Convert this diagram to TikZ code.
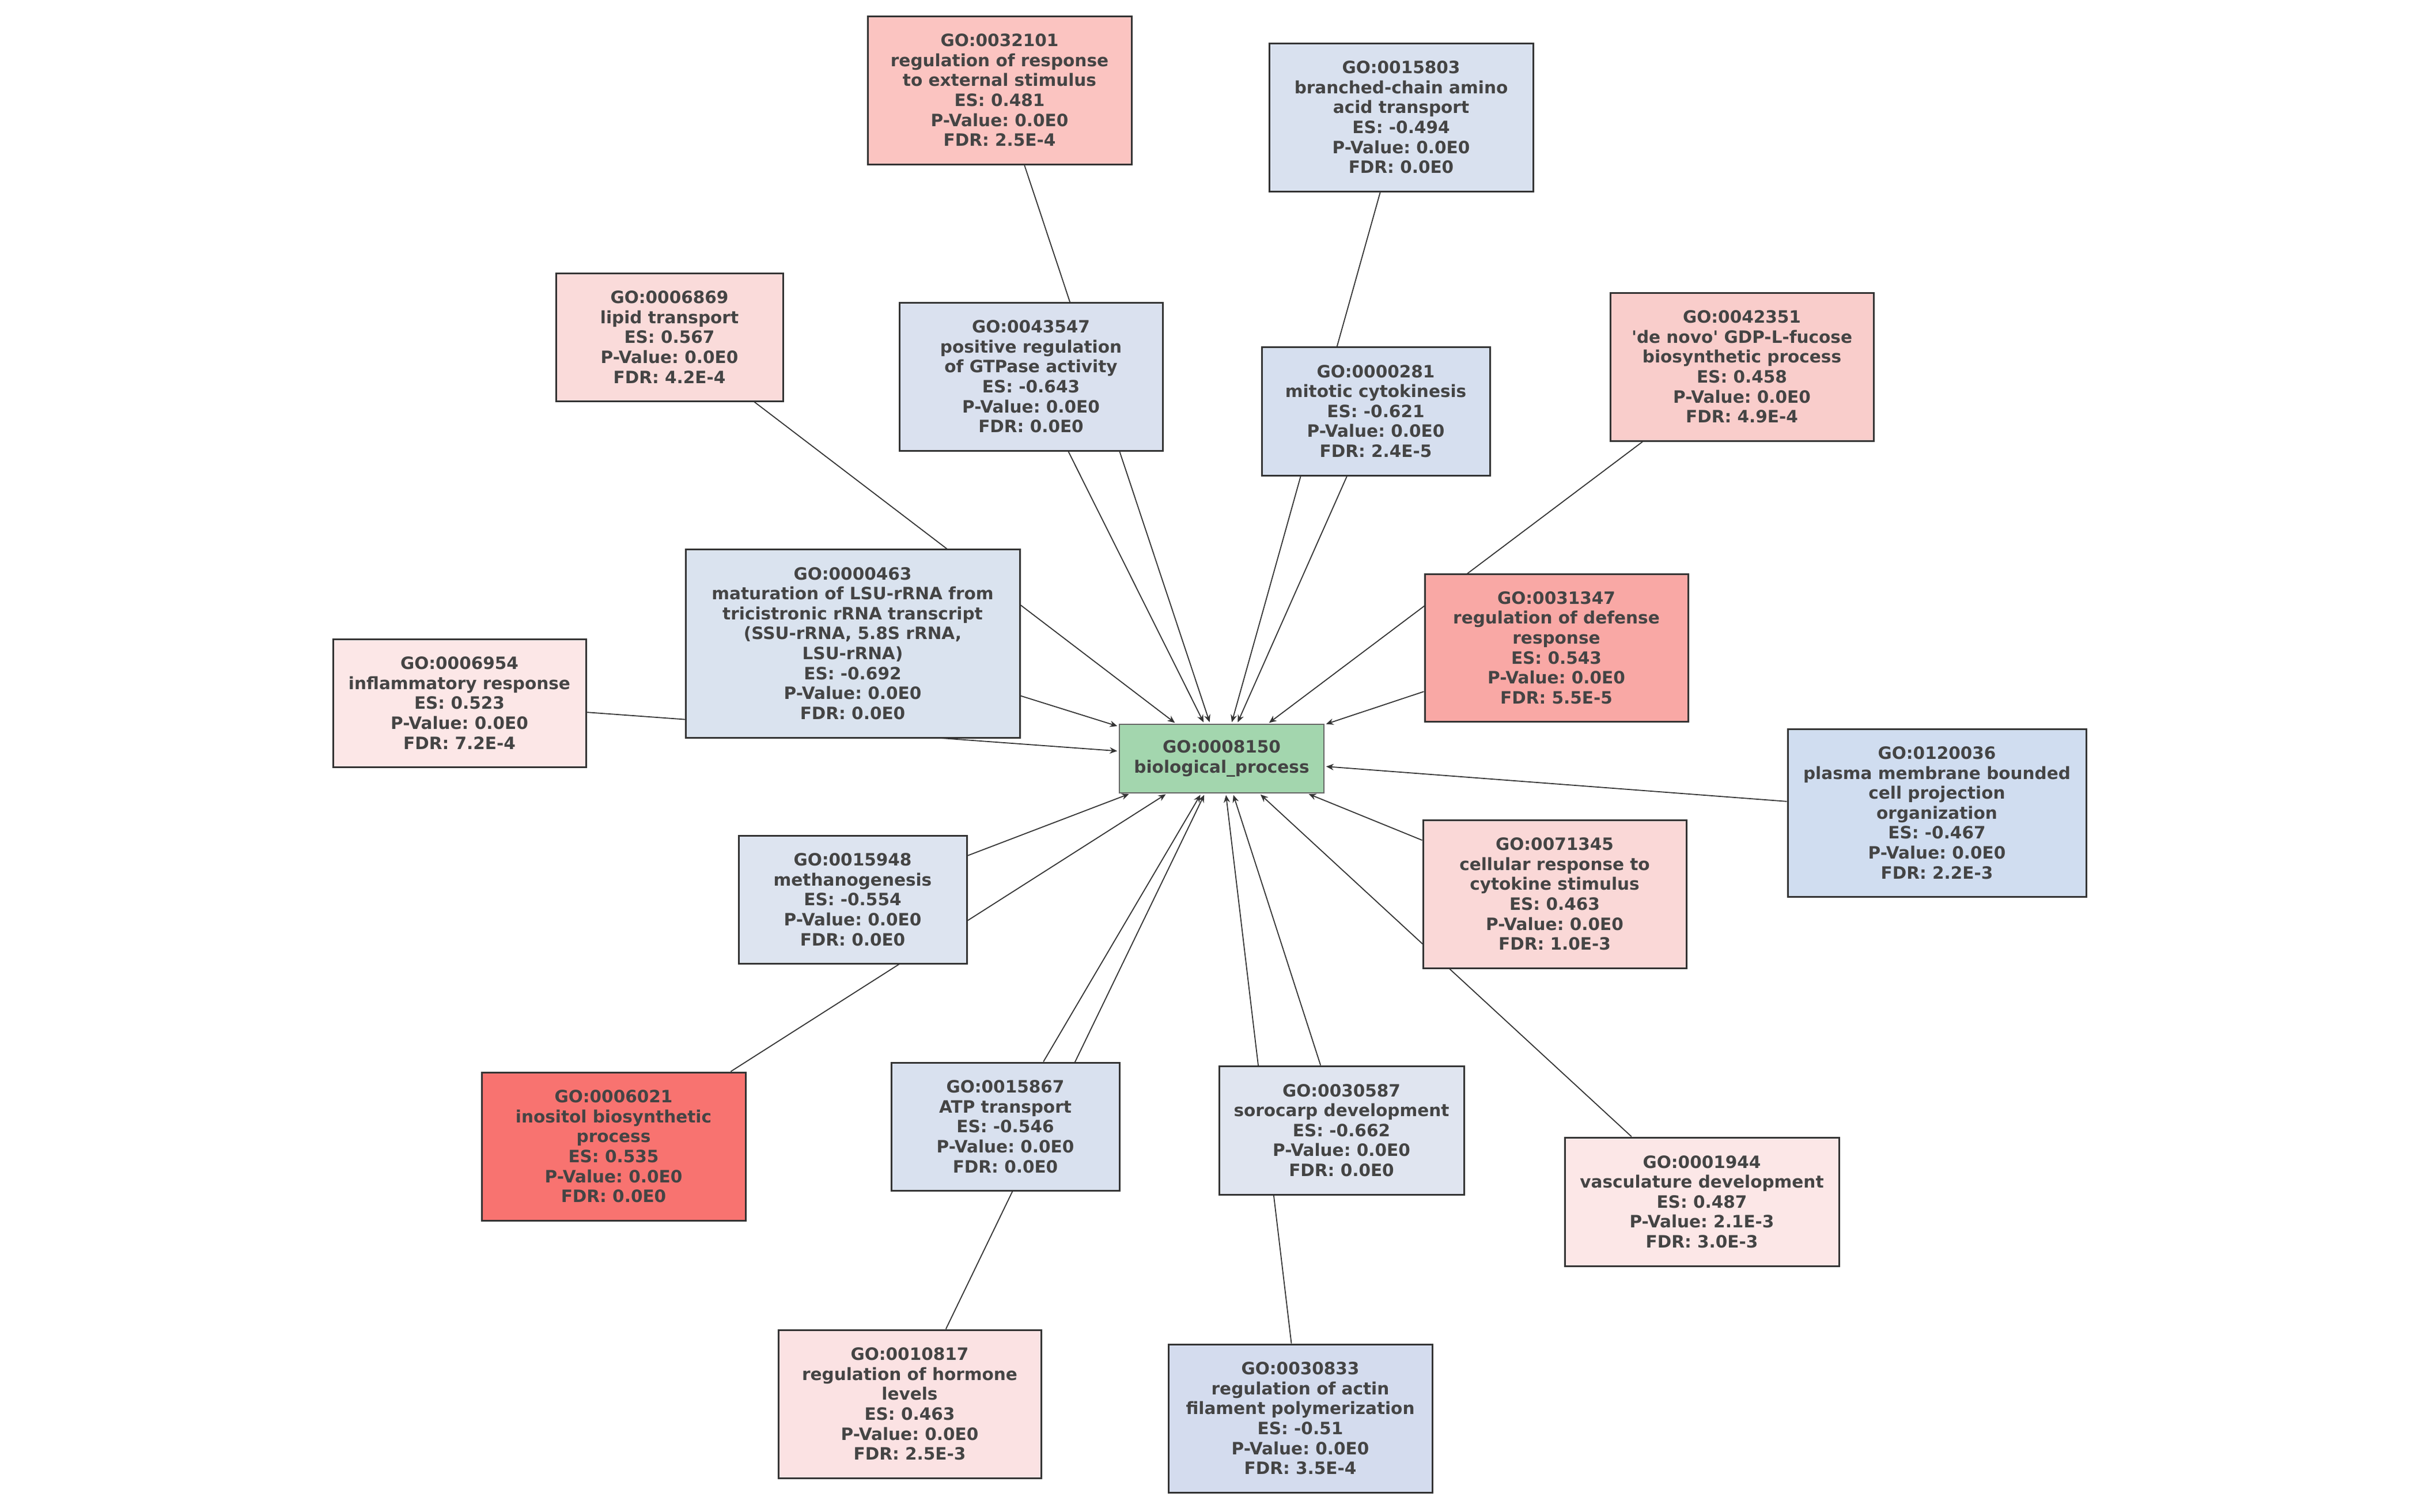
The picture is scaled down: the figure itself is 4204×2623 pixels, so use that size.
\documentclass[tikz,border=0pt]{standalone}
\usepackage{fontspec}
\setmainfont{DejaVu Sans}
\newfontfamily\qfont{DejaVu Sans}
\usetikzlibrary{arrows.meta}
\frenchspacing
\pgfdeclarelayer{edgelayer}
\pgfsetlayers{edgelayer,main}
\definecolor{txtc}{HTML}{444444}
\definecolor{bordc}{HTML}{333333}
\definecolor{edgec}{HTML}{333333}
\definecolor{cgreen}{HTML}{A3D6AE}
\definecolor{cA}{HTML}{FBC4C1}
\definecolor{cB}{HTML}{D9E1EF}
\definecolor{cC}{HTML}{DAE1EF}
\definecolor{cD}{HTML}{D6DFEF}
\definecolor{cE}{HTML}{FADBDA}
\definecolor{cF}{HTML}{F9CDCB}
\definecolor{cG}{HTML}{DAE3EF}
\definecolor{cH}{HTML}{F9A8A5}
\definecolor{cI}{HTML}{FCE7E7}
\definecolor{cJ}{HTML}{D0DDF0}
\definecolor{cK}{HTML}{DDE4F0}
\definecolor{cL}{HTML}{FAD8D7}
\definecolor{cM}{HTML}{F87370}
\definecolor{cN}{HTML}{D9E1EF}
\definecolor{cO}{HTML}{E0E5F0}
\definecolor{cP}{HTML}{FCE7E7}
\definecolor{cQ}{HTML}{FBE2E3}
\definecolor{cR}{HTML}{D4DCEE}
\tikzset{
  gobox/.style={draw=bordc, line width=0.3mm, rectangle, inner sep=0pt, align=center, text=txtc,
    font=\fontsize{8.4}{9.85}\selectfont\bfseries\frenchspacing},
  rootbox/.style={draw=black!60, line width=0.15mm, rectangle, inner sep=0pt, align=center, text=txtc, fill=cgreen,
    font=\fontsize{8.4}{9.85}\selectfont\bfseries},
  edge/.style={draw=edgec, line width=0.18mm, -{Stealth[length=1.3mm,width=1.1mm]}, shorten >=0.3mm}
}
\begin{document}
\begin{tikzpicture}[x=0.1mm,y=-0.1mm]
\useasboundingbox (0,0) rectangle (4204,2623);
\node[rootbox, minimum width=35.5mm, minimum height=11.9mm] (c) at (2120.5,1316.5) {GO:0008150\\biological\_process};
\node[gobox, fill=cA, minimum width=45.8mm, minimum height=25.7mm] (n1) at (1735,156.5) {GO:0032101\\regulation of response\\to external stimulus\\ES: 0.481\\P-Value: 0.0E0\\FDR: 2.5E-4};
\node[gobox, fill=cB, minimum width=45.8mm, minimum height=25.7mm] (n2) at (2432,203.5) {GO:0015803\\branched-chain amino\\acid transport\\ES: -0.494\\P-Value: 0.0E0\\FDR: 0.0E0};
\node[gobox, fill=cC, minimum width=45.7mm, minimum height=25.7mm] (n3) at (1789.5,653.5) {GO:0043547\\positive regulation\\of GTPase activity\\ES: -0.643\\P-Value: 0.0E0\\FDR: 0.0E0};
\node[gobox, fill=cD, minimum width=39.6mm, minimum height=22.3mm] (n4) at (2388,713.5) {GO:0000281\\mitotic cytokinesis\\ES: -0.621\\P-Value: 0.0E0\\FDR: 2.4E-5};
\node[gobox, fill=cE, minimum width=39.4mm, minimum height=22.2mm] (n5) at (1162,585) {GO:0006869\\lipid transport\\ES: 0.567\\P-Value: 0.0E0\\FDR: 4.2E-4};
\node[gobox, fill=cF, minimum width=45.7mm, minimum height=25.7mm] (n6) at (3023.5,636.5) {GO:0042351\\{\qfont'}de novo{\qfont'} GDP-L-fucose\\biosynthetic process\\ES: 0.458\\P-Value: 0.0E0\\FDR: 4.9E-4};
\node[gobox, fill=cG, minimum width=58.0mm, minimum height=32.7mm] (n7) at (1480,1116.5) {GO:0000463\\maturation of LSU-rRNA from\\tricistronic rRNA transcript\\(SSU-rRNA, 5.8S rRNA,\\LSU-rRNA)\\ES: -0.692\\P-Value: 0.0E0\\FDR: 0.0E0};
\node[gobox, fill=cH, minimum width=45.7mm, minimum height=25.6mm] (n8) at (2701.5,1124) {GO:0031347\\regulation of defense\\response\\ES: 0.543\\P-Value: 0.0E0\\FDR: 5.5E-5};
\node[gobox, fill=cI, minimum width=43.9mm, minimum height=22.2mm] (n9) at (797.5,1220) {GO:0006954\\inflammatory response\\ES: 0.523\\P-Value: 0.0E0\\FDR: 7.2E-4};
\node[gobox, fill=cJ, minimum width=51.8mm, minimum height=29.1mm] (n10) at (3362,1410.5) {GO:0120036\\plasma membrane bounded\\cell projection\\organization\\ES: -0.467\\P-Value: 0.0E0\\FDR: 2.2E-3};
\node[gobox, fill=cK, minimum width=39.6mm, minimum height=22.2mm] (n11) at (1480,1561) {GO:0015948\\methanogenesis\\ES: -0.554\\P-Value: 0.0E0\\FDR: 0.0E0};
\node[gobox, fill=cL, minimum width=45.7mm, minimum height=25.7mm] (n12) at (2698.5,1551.5) {GO:0071345\\cellular response to\\cytokine stimulus\\ES: 0.463\\P-Value: 0.0E0\\FDR: 1.0E-3};
\node[gobox, fill=cM, minimum width=45.8mm, minimum height=25.7mm] (n13) at (1065,1989.5) {GO:0006021\\inositol biosynthetic\\process\\ES: 0.535\\P-Value: 0.0E0\\FDR: 0.0E0};
\node[gobox, fill=cN, minimum width=39.6mm, minimum height=22.2mm] (n14) at (1745,1955) {GO:0015867\\ATP transport\\ES: -0.546\\P-Value: 0.0E0\\FDR: 0.0E0};
\node[gobox, fill=cO, minimum width=42.5mm, minimum height=22.3mm] (n15) at (2328.5,1961.5) {GO:0030587\\sorocarp development\\ES: -0.662\\P-Value: 0.0E0\\FDR: 0.0E0};
\node[gobox, fill=cP, minimum width=47.6mm, minimum height=22.3mm] (n16) at (2954,2085.5) {GO:0001944\\vasculature development\\ES: 0.487\\P-Value: 2.1E-3\\FDR: 3.0E-3};
\node[gobox, fill=cQ, minimum width=45.6mm, minimum height=25.7mm] (n17) at (1579,2436.5) {GO:0010817\\regulation of hormone\\levels\\ES: 0.463\\P-Value: 0.0E0\\FDR: 2.5E-3};
\node[gobox, fill=cR, minimum width=45.8mm, minimum height=25.7mm] (n18) at (2257,2461.5) {GO:0030833\\regulation of actin\\filament polymerization\\ES: -0.51\\P-Value: 0.0E0\\FDR: 3.5E-4};
\begin{pgfonlayer}{edgelayer}
\foreach \n in {n1,n2,n3,n4,n5,n6,n7,n8,n9,n10,n11,n12,n13,n14,n15,n16,n17,n18}
  \draw[edge] (\n) -- (c);
\end{pgfonlayer}
\end{tikzpicture}
\end{document}
